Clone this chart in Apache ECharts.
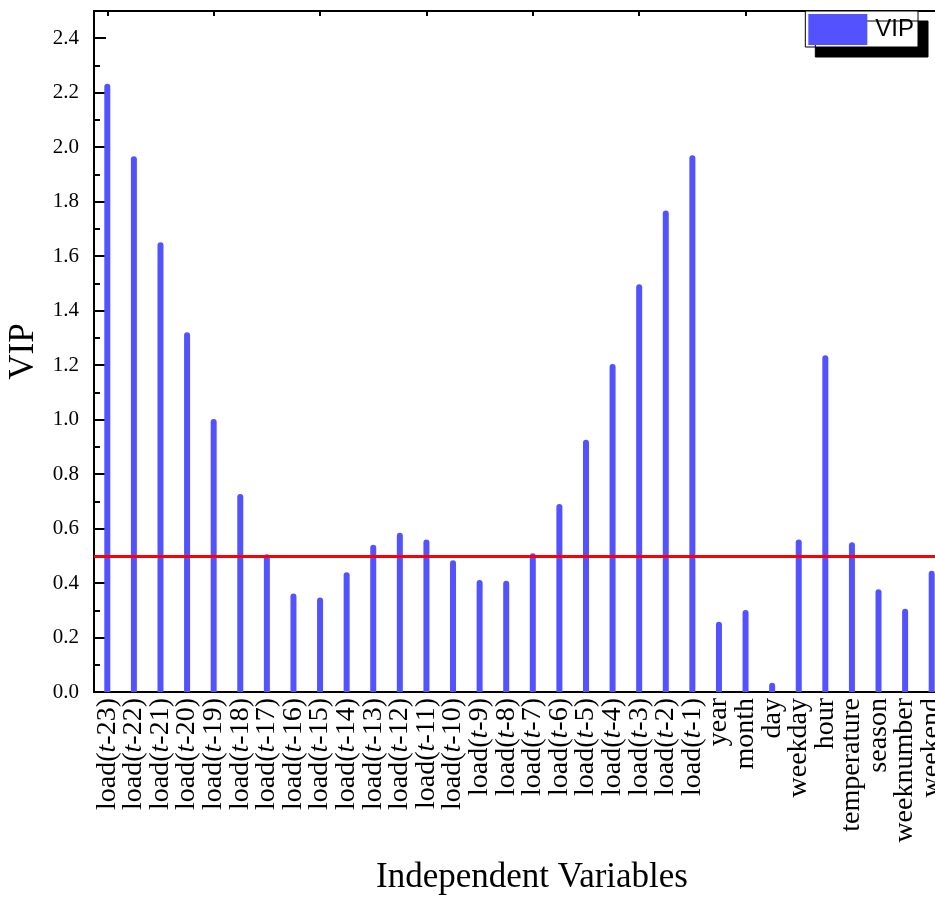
<!DOCTYPE html>
<html>
<head>
<meta charset="utf-8">
<title>VIP</title>
<script src="https://cdn.jsdelivr.net/npm/echarts@6/dist/echarts.min.js"></script>
<style>
    html, body { margin: 0; padding: 0; background: #fff; }
    #chart { width: 935px; height: 897px; }
</style>
</head>
<body>
<div id="chart"></div>
<script>
// lag names, then the calendar / weather variables
var lagNames = ['-23', '-22', '-21', '-20', '-19', '-18', '-17', '-16', '-15', '-14', '-13', '-12',
    '-11', '-10', '-9', '-8', '-7', '-6', '-5', '-4', '-3', '-2', '-1'];
var otherNames = ['year', 'month', 'day', 'weekday', 'hour', 'temperature', 'season', 'weeknumber', 'weekend'];
var categories = lagNames.map(function (s) { return 'load(t' + s + ')'; }).concat(otherNames);

var vipValues = [2.233, 1.967, 1.651, 1.321, 1.002, 0.727, 0.506, 0.362, 0.347, 0.440, 0.541, 0.585,
    0.560, 0.484, 0.411, 0.408, 0.509, 0.690, 0.926, 1.204, 1.497, 1.768, 1.970,
    0.258, 0.301, 0.034, 0.560, 1.236, 0.550, 0.377, 0.306, 0.445];

var threshold = 0.5;
var yTickLabels = ['0.0', '0.2', '0.4', '0.6', '0.8', '1.0', '1.2', '1.4', '1.6', '1.8', '2.0', '2.2', '2.4'];

var serif = '"Liberation Serif", "Times New Roman", serif';

var chart = echarts.init(document.getElementById('chart'));

var option = {
    backgroundColor: '#fff',
    animation: false,
    grid: {
        left: 94,
        top: 11,
        right: -10,
        bottom: 205,
        containLabel: false,
        outerBoundsMode: 'none'
    },
    legend: {
        data: ['VIP'],
        icon: 'rect',
        right: 17,
        top: 11,
        padding: [3, 4, 2, 3],
        itemWidth: 59,
        itemHeight: 31,
        itemGap: 0,
        backgroundColor: '#fff',
        borderColor: '#000',
        borderWidth: 1,
        borderRadius: 0,
        shadowColor: '#000',
        shadowBlur: 0,
        shadowOffsetX: 10,
        shadowOffsetY: 10,
        textStyle: {
            fontFamily: '"Liberation Sans", Arial, sans-serif',
            fontSize: 24,
            color: '#000',
            padding: [0, 0, 0, 3]
        }
    },
    xAxis: [{
        type: 'category',
        data: categories,
        position: 'bottom',
        axisLine: { onZero: false, lineStyle: { color: '#000', width: 2 } },
        axisTick: { show: true, inside: true, alignWithLabel: true, length: 5, lineStyle: { color: '#000', width: 2 } },
        axisLabel: {
            interval: 0,
            rotate: 90,
            margin: 6,
            color: '#000',
            fontFamily: serif,
            fontSize: 28,
            formatter: function (v) {
                var m = /^load\(t(.*)\)$/.exec(v);
                if (m) {
                    return '{n|load(}{it|t}{n|' + m[1] + ')}';
                }
                return '{n|' + v + '}';
            },
            rich: {
                n: { fontFamily: serif, fontSize: 28, color: '#000' },
                it: { fontFamily: serif, fontSize: 28, fontStyle: 'italic', color: '#000' }
            }
        },
        splitLine: { show: false }
    }, {
        type: 'category',
        data: categories,
        position: 'top',
        axisLine: { onZero: false, lineStyle: { color: '#000', width: 2 } },
        axisTick: { show: true, inside: true, alignWithLabel: true, length: 5, lineStyle: { color: '#000', width: 2 } },
        axisLabel: { show: false },
        splitLine: { show: false }
    }],
    yAxis: [{
        type: 'value',
        min: 0,
        max: 2.5,
        interval: 0.2,
        name: 'VIP',
        nameLocation: 'middle',
        nameRotate: 90,
        nameGap: 53,
        nameTextStyle: { fontFamily: serif, fontSize: 35, color: '#000' },
        axisLine: { show: true, lineStyle: { color: '#000', width: 2 } },
        axisTick: { show: true, inside: true, length: 12, lineStyle: { color: '#000', width: 2 } },
        axisLabel: {
            margin: 15,
            color: '#000',
            fontFamily: serif,
            fontSize: 21,
            showMaxLabel: false,
            formatter: function (v) {
                var i = Math.round(v / 0.2);
                return yTickLabels[i] !== undefined ? yTickLabels[i] : '';
            }
        },
        splitLine: { show: false }
    }, {
        // minor ticks every 0.1
        type: 'value',
        min: 0,
        max: 2.5,
        interval: 0.1,
        position: 'left',
        axisLine: { show: false },
        axisTick: { show: true, inside: true, length: 6, lineStyle: { color: '#000', width: 2 } },
        axisLabel: { show: false },
        splitLine: { show: false }
    }],
    series: [{
        name: 'VIP',
        type: 'bar',
        xAxisIndex: 0,
        yAxisIndex: 0,
        data: vipValues,
        barWidth: 6,
        itemStyle: {
            color: '#5252ff',
            borderRadius: [3, 3, 0, 0]
        },
        markLine: {
            silent: true,
            symbol: ['none', 'none'],
            label: { show: false },
            lineStyle: { color: '#ff0000', width: 3, type: 'solid' },
            data: [{ yAxis: threshold }]
        }
    }],
    graphic: [{
        type: 'text',
        left: 376,
        top: 860,
        style: {
            text: 'Independent Variables',
            font: '35px ' + serif,
            fill: '#000'
        }
    }]
};

chart.setOption(option);
</script>
</body>
</html>
